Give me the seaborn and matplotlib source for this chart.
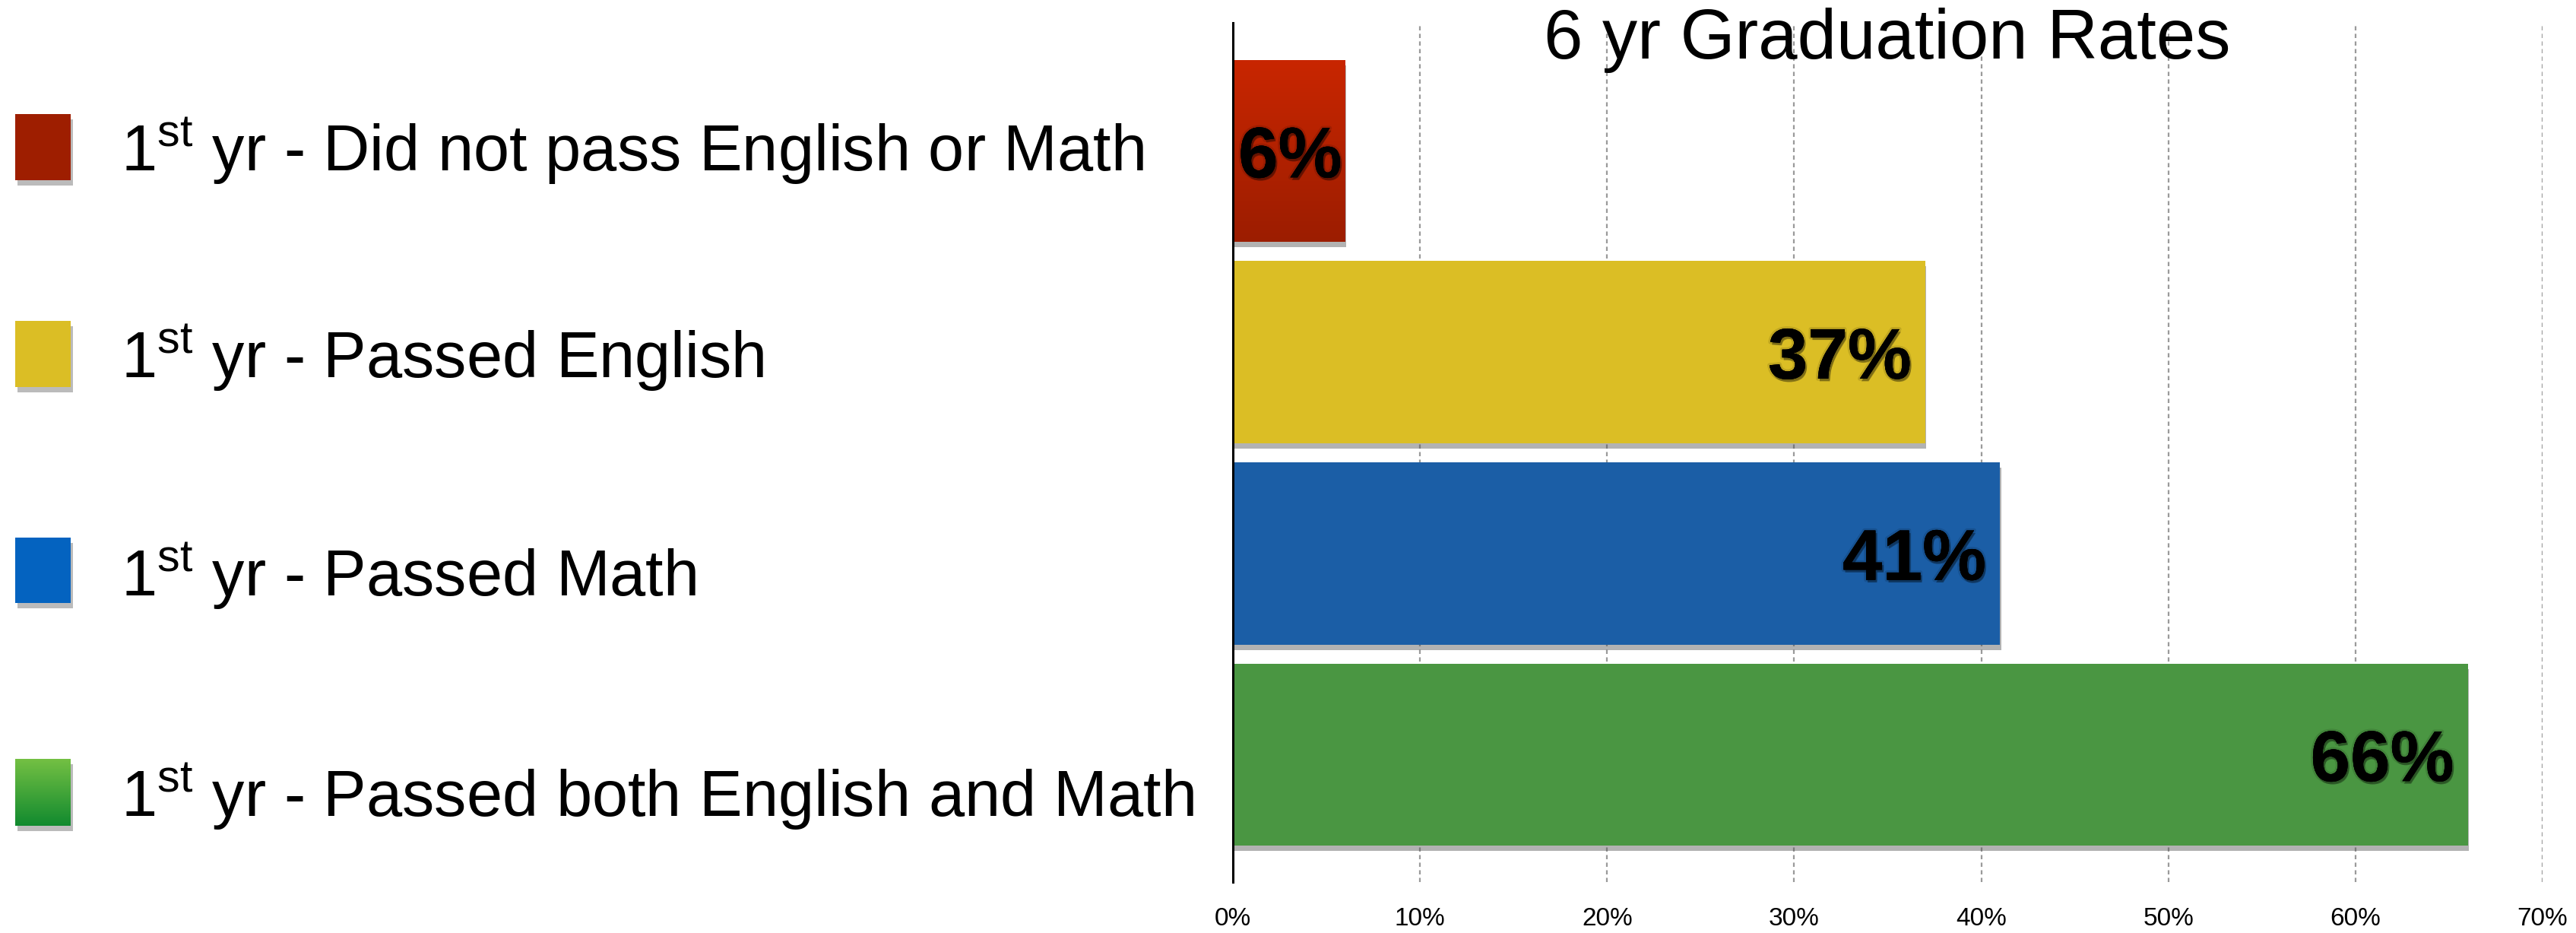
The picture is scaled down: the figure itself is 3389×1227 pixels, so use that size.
import numpy as np
import pandas as pd
import matplotlib
matplotlib.use("Agg")
import matplotlib.pyplot as plt
import matplotlib.patheffects as pe
from matplotlib.patches import Rectangle
from matplotlib.colors import LinearSegmentedColormap
from matplotlib.ticker import PercentFormatter, MultipleLocator
import seaborn as sns

# ---------------- data ----------------
categories = ["Did not pass English or Math", "Passed English", "Passed Math",
              "Passed both English and Math"]
values = [0.06, 0.37, 0.41, 0.66]
value_labels = ["6%", "37%", "41%", "66%"]
legend_labels = ["1$^{\\mathrm{st}}$ yr - Did not pass English or Math",
                 "1$^{\\mathrm{st}}$ yr - Passed English",
                 "1$^{\\mathrm{st}}$ yr - Passed Math",
                 "1$^{\\mathrm{st}}$ yr - Passed both English and Math"]
title = "6 yr Graduation Rates"

# ---------------- style ----------------
bar_colors = ["#b32000", "#dbbe25", "#1b5ea6", "#4a9642"]
red_grad = ["#c92600", "#9c1d00"]
legend_colors = ["#9e1e00", "#dbbe25", "#0463c0", None]
green_grad = ["#74c043", "#118a2f"]

sns.set_theme(style="white")
plt.rcParams["font.family"] = ["Liberation Sans", "DejaVu Sans"]
plt.rcParams["mathtext.fontset"] = "custom"
plt.rcParams["mathtext.rm"] = "Liberation Sans"
plt.rcParams["mathtext.it"] = "Liberation Sans:italic"
plt.rcParams["mathtext.bf"] = "Liberation Sans:bold"

W, H = 3389, 1227
DPI = 100
fig = plt.figure(figsize=(W / DPI, H / DPI), dpi=DPI)
fig.patch.set_facecolor("white")

ax_l, ax_r, ax_t, ax_b = 1622, 3345, 30, 1160
ax = fig.add_axes([ax_l / W, 1 - ax_b / H, (ax_r - ax_l) / W, (ax_b - ax_t) / H])

df = pd.DataFrame({"category": categories, "value": values})
sns.barplot(data=df, x="value", y="category", hue="category", palette=bar_colors,
            legend=False, orient="h", width=0.905, saturation=1, ax=ax)

shadow = [pe.SimplePatchShadow(offset=(1, -5), shadow_rgbFace="#555555", alpha=0.45), pe.Normal()]
for p in ax.patches:
    p.set_edgecolor("none")
    p.set_path_effects(shadow)

# gradient for the first (red) bar
p0 = ax.patches[0]
x0, y0, w0, h0 = p0.get_x(), p0.get_y(), p0.get_width(), p0.get_height()
cmap_red = LinearSegmentedColormap.from_list("redg", red_grad)
grad = np.linspace(0, 1, 256).reshape(-1, 1)
im = ax.imshow(grad, cmap=cmap_red, aspect="auto", origin="upper",
               extent=(x0, x0 + w0, y0 + h0, y0), zorder=p0.get_zorder() + 0.1,
               interpolation="bilinear")
im.set_clip_path(p0)

ax.set_xlim(0, 0.70)
ax.set_ylim(3.633, -0.637)
ax.xaxis.set_major_locator(MultipleLocator(0.10))
ax.xaxis.set_major_formatter(PercentFormatter(1.0, decimals=0))
ax.set_xlabel("")
ax.set_ylabel("")
ax.set_yticks([])
ax.tick_params(axis="x", length=0, pad=24, labelsize=24, labelcolor="black")
ax.xaxis.grid(True, linestyle=(0, (2.5, 2.0)), color="#9a9a9a", linewidth=1.6)
ax.set_axisbelow(True)
for s in ["top", "right", "bottom"]:
    ax.spines[s].set_visible(False)
ax.spines["left"].set_color("black")
ax.spines["left"].set_linewidth(2.2)
ax.spines["left"].set_zorder(5)

# value labels
txt_fx = [pe.SimplePatchShadow(offset=(1.5, -2.5), shadow_rgbFace="black", alpha=0.35),
          pe.withStroke(linewidth=4, foreground=(0, 0, 0, 0.12)), pe.Normal()]
for i, (v, lab) in enumerate(zip(values, value_labels)):
    pad = -3 if v < 0.1 else -13
    ax.annotate(lab, xy=(v, i), xytext=(pad, -25), textcoords="offset points",
                ha="right", va="baseline", fontsize=68, fontweight="bold",
                color="black", path_effects=txt_fx, zorder=6)

# title
fig.text(2483 / W, 1 - 77 / H, title, ha="center", va="baseline", fontsize=66.5, color="black")

# legend (manual)
sq_top = [150, 422, 707, 998]
sq_bot = [237, 509, 793, 1086]
txt_base = [224, 496, 783, 1073]
sq_x0, sq_x1 = 20, 93
sq_shadow = [pe.SimplePatchShadow(offset=(2, -5), shadow_rgbFace="#555555", alpha=0.4), pe.Normal()]
for i, lab in enumerate(legend_labels):
    bx = sq_x0 / W
    by = 1 - sq_bot[i] / H
    bw = (sq_x1 - sq_x0) / W
    bh = (sq_bot[i] - sq_top[i]) / H
    fc = legend_colors[i] if legend_colors[i] is not None else green_grad[1]
    r = Rectangle((bx, by), bw, bh, transform=fig.transFigure, facecolor=fc,
                  edgecolor="none", path_effects=sq_shadow, zorder=1)
    fig.add_artist(r)
    if legend_colors[i] is None:
        gax = fig.add_axes([bx, by, bw, bh])
        gax.set_zorder(3)
        gax.imshow(grad, cmap=LinearSegmentedColormap.from_list("gg", green_grad),
                   aspect="auto", origin="upper", interpolation="bilinear")
        gax.axis("off")
    fig.text(159 / W, 1 - txt_base[i] / H, lab, ha="left", va="baseline",
             fontsize=61, color="black")

fig.savefig("out.png", dpi=DPI, facecolor="white")
